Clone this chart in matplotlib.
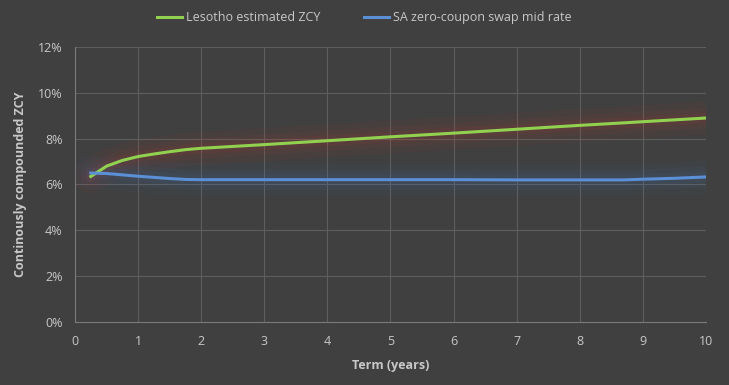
import numpy as np
import matplotlib.pyplot as plt
from matplotlib.ticker import FuncFormatter

term = [0.25, 0.5, 0.75, 1, 1.25, 1.5, 1.75, 2, 3, 4, 5, 6, 7, 8, 8.7, 9, 9.5, 10]
lesotho = [6.35, 6.8, 7.05, 7.22, 7.33, 7.43, 7.52, 7.58, 7.74, 7.91, 8.08, 8.24, 8.41, 8.58, 8.69, 8.74, 8.82, 8.9]
sa_swap = [6.5, 6.48, 6.42, 6.36, 6.31, 6.26, 6.22, 6.21, 6.21, 6.21, 6.21, 6.21, 6.2, 6.2, 6.2, 6.23, 6.27, 6.33]

bg = '#404040'
txt = '#c8c8c8'
plt.rcParams['font.family'] = ['Open Sans', 'DejaVu Sans']

fig = plt.figure(figsize=(7.29, 3.85), dpi=100, facecolor=bg)
ax = fig.add_axes([0.1029, 0.1636, 0.8655, 0.7144], facecolor=bg)

# soft glow behind each line
for w, a in [(24, 0.05), (15, 0.07), (8, 0.09)]:
    ax.plot(term, lesotho, color='#c0392b', lw=w, alpha=a, solid_capstyle='round')
    ax.plot(term, sa_swap, color='#3f6fb5', lw=w, alpha=a, solid_capstyle='round')

ax.plot(term, lesotho, color='#92d050', lw=2.2, label='Lesotho estimated ZCY')
ax.plot(term, sa_swap, color='#5b8fd6', lw=2.2, label='SA zero-coupon swap mid rate')

ax.set_xlim(0, 10)
ax.set_ylim(0, 12)
ax.set_xticks(range(0, 11))
ax.set_yticks(range(0, 13, 2))
ax.yaxis.set_major_formatter(FuncFormatter(lambda v, p: f'{v:.0f}%'))
ax.grid(True, color='#5e5e5e', lw=0.8)
ax.set_axisbelow(True)
for s in ['top', 'right']:
    ax.spines[s].set_visible(False)
for s in ['left', 'bottom']:
    ax.spines[s].set_color('#7a7a7a')
ax.tick_params(colors=txt, labelsize=9, length=0, pad=9)

ax.set_xlabel('Term (years)', color=txt, fontsize=9, fontweight='bold', labelpad=8)
ax.set_ylabel('Continously compounded ZCY', color=txt, fontsize=9, fontweight='bold', labelpad=8)

leg = fig.legend(loc='upper center', bbox_to_anchor=(0.5, 1.0), ncol=2, frameon=False,
                 fontsize=9, labelcolor=txt, handlelength=2.0, columnspacing=3.5, handletextpad=0.3)

fig.savefig('out.png', dpi=100, facecolor=bg)
